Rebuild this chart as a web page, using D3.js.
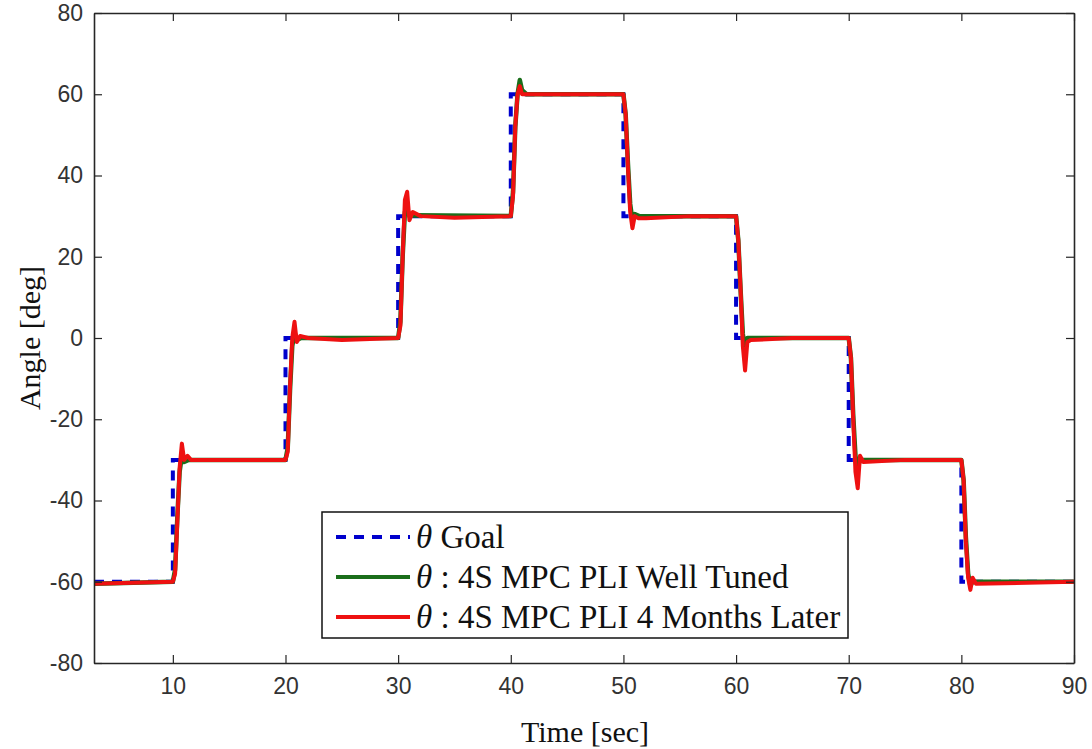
<!DOCTYPE html>
<html>
<head>
<meta charset="utf-8">
<script src="https://cdn.jsdelivr.net/npm/d3@7"></script>
<style>
  body { margin: 0; background: #fff; }
  svg { display: block; }
</style>
</head>
<body>
<div id="root"></div>
<script>
// goal (step reference)
var goalT = [3, 10, 10, 20, 20, 30, 30, 40, 40, 50, 50, 60, 60, 70, 70, 80, 80, 90];
var goalV = [-60, -60, -30, -30, 0, 0, 30, 30, 60, 60, 30, 30, 0, 0, -30, -30, -60, -60];

// well tuned response
var tunedT = [3, 10, 10.2, 10.4, 10.6, 10.8, 11.0, 11.4, 20, 20.2, 20.4, 20.6, 20.8, 21.0, 21.4, 30, 30.2, 30.4, 30.6, 30.8, 31.0, 31.4, 40, 40.2, 40.4, 40.6, 40.8, 41.0, 41.4, 50, 50.2, 50.4, 50.6, 50.8, 51.0, 51.4, 60, 60.2, 60.4, 60.6, 60.8, 61.0, 61.4, 70, 70.2, 70.4, 70.6, 70.8, 71.0, 71.4, 80, 80.2, 80.4, 80.6, 80.8, 81.0, 81.4, 90];
var tunedV = [-60.5, -60, -57, -44, -33, -29, -30.5, -30, -30, -27, -13, -2, 1.5, -0.5, 0, 0, 4, 20, 31, 32, 30, 30.2, 30, 36, 52, 60, 63.5, 61, 60, 60, 55, 43, 33, 29, 30.5, 30, 30, 24, 12, 1, -3, 0, 0, 0, -5, -19, -29, -32, -30, -30, -30, -35, -49, -58, -61, -60, -60, -60];

// 4 months later response
var laterT = [3, 10, 10.2, 10.4, 10.6, 10.8, 11.0, 11.3, 11.6, 15, 20, 20.2, 20.4, 20.6, 20.8, 21.0, 21.3, 22, 25, 30, 30.2, 30.4, 30.6, 30.8, 31.0, 31.3, 32, 35, 40, 40.2, 40.4, 40.6, 40.8, 41.0, 42, 46, 50, 50.2, 50.4, 50.6, 50.8, 51.0, 51.3, 52, 56, 60, 60.2, 60.4, 60.6, 60.8, 61.0, 61.3, 65, 70, 70.2, 70.4, 70.6, 70.8, 71.0, 71.3, 75, 80, 80.2, 80.4, 80.6, 80.8, 81.0, 81.3, 90];
var laterV = [-60.5, -60, -58, -45, -32, -26, -30, -29, -30, -30, -30, -28, -12, 0, 4, -1, 0.5, 0, -0.5, 0, 3, 20, 34, 36, 29, 31, 30, 29.6, 30, 35, 52, 60, 62, 60, 60, 60, 60, 55, 42, 31, 27, 30, 29.5, 29.5, 30, 30, 24, 12, -2, -8, -1, -0.5, 0, 0, -5, -20, -33, -37, -29, -30.5, -30, -30, -35, -50, -59, -62, -59, -60.5, -60];

var xTicks = [10, 20, 30, 40, 50, 60, 70, 80, 90];
var yTicks = [-80, -60, -40, -20, 0, 20, 40, 60, 80];
var legendLabels = ["Goal", ": 4S MPC PLI Well Tuned", ": 4S MPC PLI 4 Months Later"];

var W = 1092, H = 749;
var L = 94, R = 1074, T = 13, B = 663;
var axisColor = "#262626";

var svg = d3.select("#root").append("svg")
    .attr("width", W)
    .attr("height", H);

var x = d3.scaleLinear().domain([3, 90]).range([L, R]);
var y = d3.scaleLinear().domain([-80, 80]).range([B, T]);

svg.append("clipPath").attr("id", "plotclip")
    .append("rect").attr("x", L).attr("y", T).attr("width", R - L).attr("height", B - T);

var line = d3.line()
    .x(function (d) { return x(d[0]); })
    .y(function (d) { return y(d[1]); });

function zip(ts, vs) {
    return ts.map(function (t, i) { return [t, vs[i]]; });
}

var plot = svg.append("g").attr("clip-path", "url(#plotclip)");

plot.append("path")
    .datum(zip(goalT, goalV))
    .attr("d", line)
    .attr("fill", "none")
    .attr("stroke", "#0000cc")
    .attr("stroke-width", 4)
    .attr("stroke-dasharray", "10,8");

plot.append("path")
    .datum(zip(tunedT, tunedV))
    .attr("d", line)
    .attr("fill", "none")
    .attr("stroke", "#1a6e1a")
    .attr("stroke-width", 4.5)
    .attr("stroke-linejoin", "round");

plot.append("path")
    .datum(zip(laterT, laterV))
    .attr("d", line)
    .attr("fill", "none")
    .attr("stroke", "#ee1111")
    .attr("stroke-width", 4)
    .attr("stroke-linejoin", "round");

// axes (matlab box style, ticks inside)
var tickLen = 8;
var fmt = function (d) { return String(d); };
var gx = svg.append("g").attr("transform", "translate(0," + B + ")")
    .call(d3.axisBottom(x).tickValues(xTicks).tickSizeInner(-tickLen).tickSizeOuter(0).tickPadding(15).tickFormat(fmt));
var gxt = svg.append("g").attr("transform", "translate(0," + T + ")")
    .call(d3.axisTop(x).tickValues(xTicks).tickSizeInner(-tickLen).tickSizeOuter(0).tickFormat(""));
var gy = svg.append("g").attr("transform", "translate(" + L + ",0)")
    .call(d3.axisLeft(y).tickValues(yTicks).tickSizeInner(-tickLen).tickSizeOuter(0).tickPadding(11).tickFormat(fmt));
var gyr = svg.append("g").attr("transform", "translate(" + R + ",0)")
    .call(d3.axisRight(y).tickValues(yTicks).tickSizeInner(-tickLen).tickSizeOuter(0).tickFormat(""));

[gx, gxt, gy, gyr].forEach(function (g) {
    g.select(".domain").attr("stroke", axisColor).attr("stroke-width", 1.6);
    g.selectAll(".tick line").attr("stroke", axisColor).attr("stroke-width", 1.2);
    g.selectAll(".tick text")
        .attr("fill", "#333")
        .style("font-family", "'Liberation Sans', Arial, sans-serif")
        .style("font-size", "23px");
});

svg.append("text")
    .attr("x", 585)
    .attr("y", 742)
    .attr("text-anchor", "middle")
    .style("font-family", "'Liberation Serif', 'Times New Roman', serif")
    .style("font-size", "30px")
    .attr("fill", "#111")
    .text("Time [sec]");

svg.append("text")
    .attr("transform", "translate(40," + (T + B) / 2 + ") rotate(-90)")
    .attr("text-anchor", "middle")
    .style("font-family", "'Liberation Serif', 'Times New Roman', serif")
    .style("font-size", "30px")
    .attr("fill", "#111")
    .text("Angle [deg]");

// legend
var lg = svg.append("g");
lg.append("rect")
    .attr("x", 322).attr("y", 512)
    .attr("width", 526).attr("height", 126)
    .attr("fill", "#fff")
    .attr("stroke", "#111")
    .attr("stroke-width", 1.5);

var legStyles = [
    { color: "#0000cc", dash: "10,8" },
    { color: "#1a6e1a", dash: null },
    { color: "#ee1111", dash: null }
];

legendLabels.forEach(function (lab, i) {
    var cy = 537 + i * 40;
    lg.append("line")
        .attr("x1", 336).attr("x2", 410)
        .attr("y1", cy).attr("y2", cy)
        .attr("stroke", legStyles[i].color)
        .attr("stroke-width", 4)
        .attr("stroke-dasharray", legStyles[i].dash);
    var t = lg.append("text")
        .attr("x", 416).attr("y", cy + 11)
        .style("font-family", "'Liberation Serif', 'Times New Roman', serif")
        .style("font-size", "33px")
        .attr("fill", "#111");
    t.append("tspan").style("font-style", "italic").text("\u03b8");
    t.append("tspan").text(" " + lab);
});
</script>
</body>
</html>
